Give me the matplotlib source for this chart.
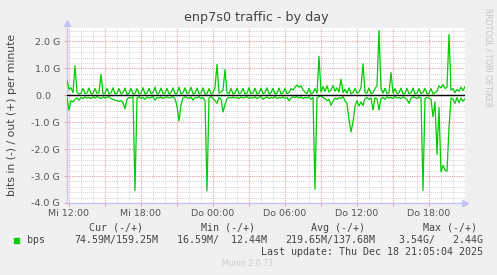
import numpy as np
import matplotlib
matplotlib.use("Agg")
import matplotlib.pyplot as plt
import matplotlib.dates as mdates
import pandas as pd

# samples every 10 minutes (munin day graph), Mi 17.12. -> Do 18.12.
times = pd.date_range("2025-12-17 11:52", periods=200, freq="10min")

# bits out (+) per minute, in G
out_g = [0.55, 0.22, 0.28, 0.10, 1.10, 0.12, 0.05, 0.08, 0.26, 0.06, 0.09, 0.27,
         0.05, 0.08, 0.25, 0.07, 0.10, 0.78, 0.06, 0.08, 0.26, 0.05, 0.09, 0.28,
         0.06, 0.08, 0.25, 0.05, 0.10, 0.27, 0.04, 0.08, 0.26, 0.05, 0.07, 0.25,
         0.06, 0.09, 0.28, 0.05, 0.08, 0.26, 0.06, 0.10, 0.30, 0.05, 0.08, 0.27,
         0.06, 0.09, 0.26, 0.05, 0.10, 0.28, 0.06, 0.08, 0.30, 0.05, 0.09, 0.28,
         0.06, 0.10, 0.30, 0.05, 0.08, 0.27, 0.06, 0.09, 0.28, 0.05, 0.06, 0.25,
         0.05, 0.10, 0.28, 1.15, 0.08, 0.12, 0.20, 0.95, 0.10, 0.06, 0.26, 0.05,
         0.08, 0.27, 0.06, 0.09, 0.26, 0.05, 0.08, 0.28, 0.06, 0.09, 0.26, 0.05,
         0.08, 0.27, 0.06, 0.10, 0.28, 0.05, 0.09, 0.26, 0.06, 0.08, 0.27, 0.05,
         0.09, 0.26, 0.06, 0.10, 0.25, 0.20, 0.30, 0.38, 0.30, 0.35, 0.20, 0.12,
         0.06, 0.26, 0.05, 0.09, 0.25, 0.08, 1.45, 0.12, 0.32, 0.15, 0.35, 0.12,
         0.20, 0.36, 0.15, 0.28, 0.12, 0.60, 0.10, 0.22, 0.08, 0.28, 0.06, 0.10,
         0.26, 0.08, 0.12, 0.30, 1.17, 0.10, 0.08, 0.27, 0.06, 0.09, 0.25, 0.35,
         2.41, 0.25, 0.08, 0.26, 0.06, 0.10, 0.85, 0.08, 0.25, 0.06, 0.09, 0.27,
         0.05, 0.08, 0.26, 0.06, 0.09, 0.27, 0.05, 0.08, 0.25, 0.06, 0.10, 0.26,
         0.05, 0.08, 0.25, 0.06, 0.10, 0.15, 0.35, 0.28, 0.40, 0.25, 0.30, 2.26,
         0.20, 0.25, 0.10, 0.22, 0.15, 0.30, 0.18, 0.32]

# bits in (-) per minute, in G (drawn below zero)
in_g = [-0.10, -0.55, -0.20, -0.25, -0.15, -0.10, -0.18, -0.08, -0.12, -0.06, -0.10, -0.08,
        -0.12, -0.06, -0.10, -0.05, -0.08, -0.12, -0.06, -0.10, -0.08, -0.05, -0.12, -0.15,
        -0.18, -0.20, -0.22, -0.20, -0.28, -0.50, -0.15, -0.08, -0.10, -0.06, -3.54, -0.10,
        -0.05, -0.12, -0.08, -0.15, -0.06, -0.10, -0.08, -0.05, -0.18, -0.08, -0.10, -0.06,
        -0.12, -0.08, -0.06, -0.10, -0.08, -0.05, -0.12, -0.40, -0.95, -0.35, -0.10, -0.06,
        -0.08, -0.12, -0.06, -0.18, -0.08, -0.10, -0.05, -0.12, -0.08, -0.20, -3.55, -0.10,
        -0.05, -0.12, -0.20, -0.30, -0.08, -0.15, -0.62, -0.35, -0.12, -0.08, -0.10, -0.06,
        -0.10, -0.08, -0.12, -0.06, -0.10, -0.08, -0.05, -0.12, -0.08, -0.10, -0.06, -0.12,
        -0.08, -0.05, -0.15, -0.10, -0.06, -0.12, -0.08, -0.10, -0.05, -0.12, -0.08, -0.10,
        -0.06, -0.12, -0.08, -0.20, -0.10, -0.06, -0.08, -0.05, -0.10, -0.06, -0.12, -0.08,
        -0.10, -0.06, -0.15, -0.08, -3.49, -0.10, -0.05, -0.02, -0.08, -0.12, -0.20, -0.15,
        -0.37, -0.22, -0.10, -0.15, -0.08, -0.12, -0.05, -0.20, -0.30, -0.90, -1.36, -1.00,
        -0.40, -0.20, -0.40, -0.25, -0.38, -0.12, -0.08, -0.15, -0.10, -0.55, -0.10, -0.12,
        -0.55, -0.12, -0.08, -0.15, -0.06, -0.10, -0.08, -0.12, -0.05, -0.10, -0.08, -0.12,
        -0.06, -0.10, -0.15, -0.30, -0.10, -0.06, -0.08, -0.12, -0.06, -0.10, -3.54, -0.12,
        -0.08, -0.10, -0.15, -0.80, -0.25, -2.19, -0.45, -2.84, -2.60, -2.78, -2.82, -1.20,
        -0.10, -0.15, -0.30, -0.08, -0.28, -0.10, -0.22, -0.12]

ytick_vals = [-4, -3, -2, -1, 0, 1, 2]
ytick_labels = ["-4.0 G", "-3.0 G", "-2.0 G", "-1.0 G", "0.0   ", "1.0 G", "2.0 G"]
xtick_labels = ["Mi 12:00", "Mi 18:00", "Do 00:00", "Do 06:00", "Do 12:00", "Do 18:00"]

legend_heads = ["Cur (-/+)", "Min (-/+)", "Avg (-/+)", "Max (-/+)"]
legend_vals = ["74.59M/159.25M", "16.59M/  12.44M", "219.65M/137.68M", "3.54G/   2.44G"]

W, H = 497, 275
GREEN = "#00cc00"
AXIS = "#c4c4f4"

fig = plt.figure(figsize=(W / 100, H / 100), dpi=100, facecolor="#f0f0f0")
ax = fig.add_axes([67 / W, 1 - 203 / H, 398 / W, 175 / H])
ax.set_facecolor("white")

t = mdates.date2num(times.to_pydatetime())
ax.plot(t, out_g, color=GREEN, lw=0.9, zorder=3)
ax.plot(t, in_g, color=GREEN, lw=0.9, zorder=3)
ax.axhline(0, color="black", lw=1.0, zorder=4)

ax.set_xlim(t[0], t[-1])
ax.set_ylim(-4, 2.5)

# grid: hours / 3 hours, 0.2 G / 1 G
major_t = mdates.date2num(pd.date_range("2025-12-17 12:00", periods=12, freq="3h").to_pydatetime())
minor_t = mdates.date2num(pd.date_range("2025-12-17 12:00", periods=34, freq="1h").to_pydatetime())
labels = []
for lab in xtick_labels:
    labels += [lab, ""]
ax.set_xticks(major_t)
ax.set_xticklabels(labels)
ax.set_xticks(minor_t, minor=True)
ax.set_yticks(ytick_vals)
ax.set_yticklabels(ytick_labels)
ax.set_yticks(np.arange(-4, 2.5, 0.2), minor=True)

ax.grid(which="minor", color="#d4d4d4", ls=(0, (1, 1)), lw=0.7)
ax.grid(which="major", color="#e8a0a0", ls=(0, (1, 1)), lw=0.8)
ax.set_axisbelow(True)

ax.tick_params(which="major", length=2, width=0.7, color="#e8a0a0", labelsize=6.8,
               labelcolor="#555555", pad=2)
ax.tick_params(which="minor", length=0)
ax.tick_params(axis="y", pad=3)

for s in ["top", "right"]:
    ax.spines[s].set_visible(False)
for s in ["left", "bottom"]:
    ax.spines[s].set_color(AXIS)
    ax.spines[s].set_linewidth(1.0)

# axis arrows
ax.plot([1.0], [0.0], marker=">", ms=5, color=AXIS, transform=ax.transAxes,
        clip_on=False, zorder=5)
ax.plot([0.0], [1.03], marker="^", ms=5, color=AXIS, transform=ax.transAxes,
        clip_on=False, zorder=5)

fig.text(256 / W, 1 - 18 / H, "enp7s0 traffic - by day", ha="center", va="center",
         fontsize=9.2, color="#444444")
fig.text(12 / W, 1 - 115 / H, "bits in (-) / out (+) per minute", rotation=90,
         ha="center", va="center", fontsize=7.8, color="#444444")
fig.text(488 / W, 1 - 58 / H, "RRDTOOL / TOBI OETIKER", rotation=270,
         ha="center", va="center", fontsize=5.6, color="#c4c4c4")

# legend block
mono = "DejaVu Sans Mono"
head_x = [116, 228, 338, 450]
val_x = [158, 267, 375, 483]
for hx, hd in zip(head_x, legend_heads):
    fig.text(hx / W, 1 - 228 / H, hd, ha="center", va="center", family=mono,
             fontsize=7.2, color="#444444")
fig.patches.append(plt.Rectangle((14 / W, 1 - 243 / H), 5 / W, 5 / H,
                                 transform=fig.transFigure, color=GREEN))
fig.text(27 / W, 1 - 240 / H, "bps", ha="left", va="center", family=mono,
         fontsize=7.2, color="#444444")
for vx, v in zip(val_x, legend_vals):
    fig.text(vx / W, 1 - 240 / H, v, ha="right", va="center", family=mono,
             fontsize=7.2, color="#444444")
fig.text(483 / W, 1 - 252 / H, "Last update: Thu Dec 18 21:05:04 2025", ha="right",
         va="center", family=mono, fontsize=7.2, color="#444444")
fig.text(247 / W, 1 - 264 / H, "Munin 2.0.73", ha="center", va="center",
         fontsize=5.6, color="#cccccc")

fig.savefig("out.png", dpi=100, facecolor=fig.get_facecolor())
